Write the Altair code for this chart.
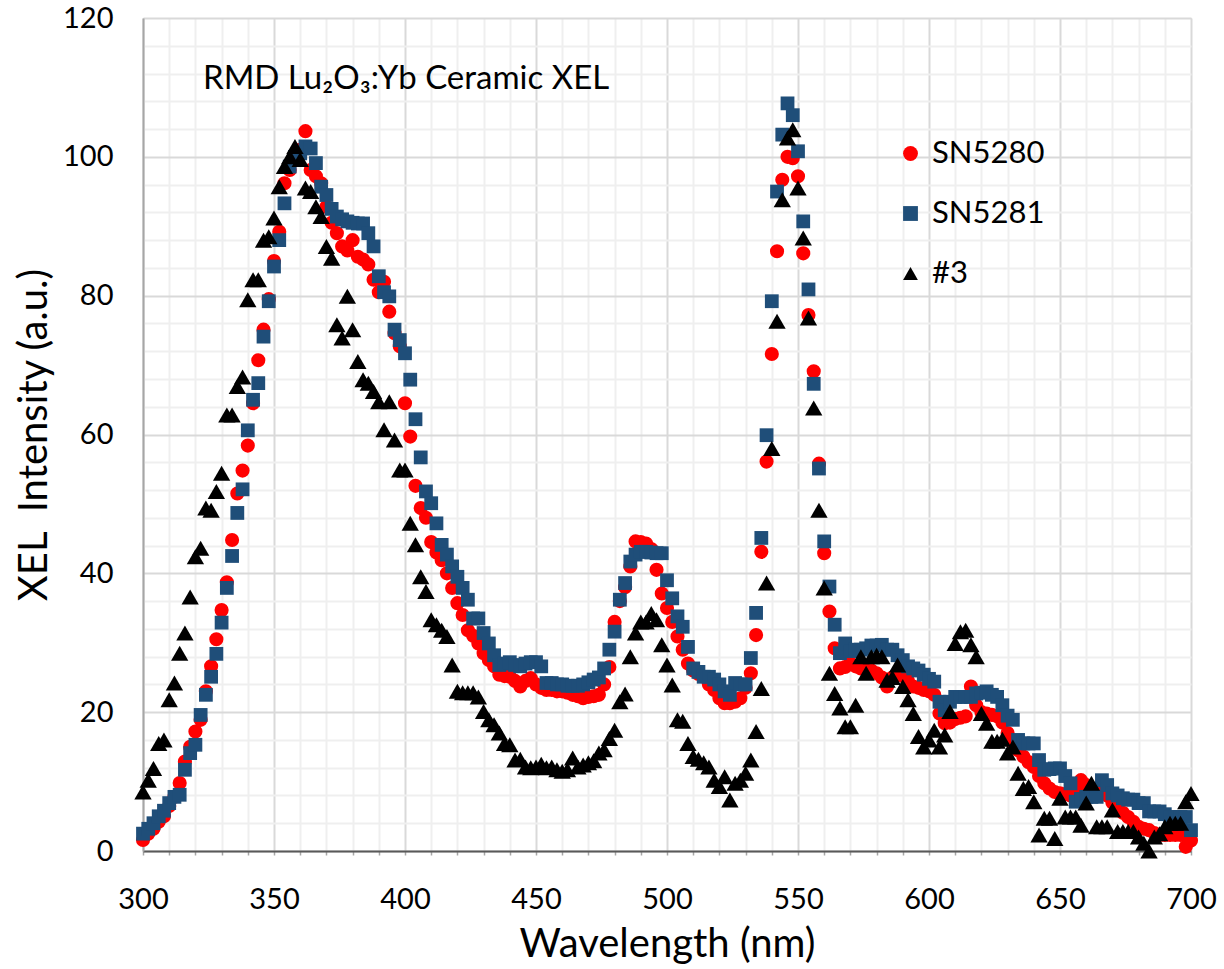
import altair as alt
import pandas as pd

# Wavelength grid (nm)
wavelength = list(range(300, 701, 2))

sn5280 = [
    1.6, 2.5, 3.2, 4.2, 5.0, 6.5, 7.8, 9.8, 12.9, 15.0,
    17.2, 18.9, 23.0, 26.6, 30.5, 34.7, 38.7, 44.8, 51.5, 54.8,
    58.4, 64.5, 70.7, 75.1, 79.5, 85.0, 89.2, 96.2, 98.1, 100.0,
    101.0, 103.7, 98.1, 97.2, 96.2, 92.8, 90.5, 89.0, 87.1, 86.5,
    88.0, 85.6, 85.2, 84.5, 82.3, 80.5, 82.0, 77.7, 74.6, 72.7,
    64.5, 59.7, 52.6, 49.4, 48.0, 44.5, 43.0, 41.9, 40.0, 37.9,
    35.7, 34.0, 31.8, 31.0, 29.9, 28.5, 27.5, 26.6, 25.4, 25.2,
    25.1, 24.5, 23.7, 24.5, 24.9, 24.0, 23.5, 23.2, 23.2, 23.0,
    23.0, 22.8, 22.5, 22.3, 22.0, 22.2, 22.3, 22.5, 24.0, 26.5, 33.0,
    36.0, 38.0, 41.0, 44.6, 44.5, 44.3, 43.5, 40.5, 37.1, 35.0,
    33.0, 30.9, 29.0, 27.0, 26.0, 25.5, 25.1, 24.0, 23.2, 22.0,
    21.3, 21.3, 21.5, 22.0, 23.5, 25.6, 31.1, 43.1, 56.1, 71.6,
    86.4, 96.7, 100.0, 99.8, 97.2, 86.1, 77.2, 69.1, 55.8, 42.9,
    34.5, 29.2, 26.3, 26.5, 27.0, 26.6, 26.3, 26.0, 26.0, 25.6,
    25.0, 23.7, 25.0, 25.6, 25.2, 24.5, 23.7, 23.5, 23.2, 23.0,
    22.5, 19.8, 18.4, 18.5, 19.0, 19.2, 19.4, 23.7, 21.0, 20.0,
    19.8, 19.6, 19.4, 18.5, 17.0, 15.5, 14.5, 13.6, 12.8, 12.1,
    10.8, 9.75, 9.0, 8.5, 8.3, 8.2, 8.0, 9.0, 10.2, 9.5,
    8.8, 8.5, 8.2, 8.0, 7.0, 6.0, 5.5, 4.9, 4.2, 3.5,
    3.2, 3.0, 2.6, 2.3, 2.3, 2.3, 2.3, 2.3, 0.6, 1.5,
]

sn5281 = [
    2.5, 3.2, 4.0, 5.0, 5.8, 6.9, 7.8, 8.1, 11.7, 14.1,
    15.3, 19.6, 22.5, 25.1, 28.4, 32.9, 37.9, 42.5, 48.7, 52.1,
    60.6, 65.0, 67.4, 74.1, 79.2, 84.2, 88.0, 93.3, 98.6, 100.0,
    100.5, 101.5, 101.2, 99.1, 95.7, 94.5, 92.5, 91.4, 91.0, 90.7,
    90.5, 90.4, 90.4, 89.0, 87.1, 82.8, 80.5, 79.9, 75.1, 73.6,
    71.7, 67.9, 62.2, 56.7, 51.8, 50.1, 47.2, 44.1, 42.7, 41.0,
    39.5, 37.9, 36.2, 33.5, 33.5, 31.4, 29.9, 28.2, 26.8, 27.0,
    27.2, 26.8, 26.6, 27.0, 27.2, 27.2, 26.6, 24.2, 24.2, 24.0,
    24.0, 23.8, 23.8, 23.8, 24.0, 24.3, 24.7, 25.0, 26.3, 29.0, 31.6,
    36.2, 38.6, 41.7, 42.7, 43.1, 43.1, 43.0, 42.9, 42.9, 39.0,
    36.4, 33.8, 32.3, 29.4, 26.3, 25.8, 25.1, 25.1, 24.7, 24.0,
    23.0, 22.5, 24.2, 24.0, 24.0, 27.8, 34.3, 45.1, 59.9, 79.2,
    95.0, 103.2, 107.7, 106.0, 100.8, 90.7, 80.9, 67.3, 55.1, 44.6,
    38.1, 32.6, 28.5, 29.9, 28.8, 29.0, 29.0, 29.2, 29.6, 29.6,
    29.7, 29.0, 29.0, 28.2, 27.5, 26.6, 26.3, 26.0, 25.4, 24.8,
    24.4, 21.5, 20.3, 21.5, 22.2, 22.2, 22.2, 22.2, 22.7, 22.8,
    23.0, 22.5, 22.2, 21.0, 19.5, 18.9, 16.0, 15.5, 15.5, 15.5,
    13.1, 11.7, 11.8, 11.9, 11.9, 10.8, 9.75, 7.1, 7.5, 7.8,
    7.8, 7.8, 10.2, 9.5, 8.3, 8.0, 7.6, 7.4, 7.4, 6.9,
    6.9, 5.7, 5.7, 5.7, 5.3, 4.9, 4.9, 4.9, 4.9, 3.0,
]

sample3 = [
    8.5, 10.2, 11.9, 15.5, 16.0, 21.8, 24.2, 28.5, 31.4, 36.6,
    42.4, 43.6, 49.4, 49.1, 51.8, 54.4, 62.8, 62.8, 66.9, 68.3,
    79.4, 82.3, 82.3, 88.0, 88.5, 91.2, 95.7, 98.6, 100.0, 101.5,
    99.6, 95.5, 95.0, 92.8, 91.4, 87.1, 85.4, 75.8, 73.9, 79.9,
    75.1, 70.5, 67.9, 67.4, 66.2, 64.7, 60.7, 64.7, 59.2, 54.9,
    54.9, 47.2, 44.1, 39.5, 37.4, 33.3, 32.6, 31.8, 30.9, 26.8,
    23.0, 22.8, 22.8, 22.8, 22.2, 20.1, 18.9, 18.2, 17.0, 15.5,
    15.3, 13.1, 13.2, 12.1, 12.0, 12.1, 12.5, 12.0, 12.1, 11.7,
    11.5, 11.7, 13.4, 12.1, 12.4, 12.7, 13.0, 14.1, 14.6, 16.2, 17.4,
    21.5, 22.6, 28.0, 31.4, 33.0, 33.0, 34.2, 33.3, 29.7, 26.8,
    23.9, 18.9, 18.7, 15.5, 13.6, 13.2, 12.7, 12.1, 10.2, 9.3,
    10.7, 7.35, 9.75, 10.2, 11.2, 13.1, 17.2, 23.4, 38.6, 58.0,
    76.3, 93.8, 102.7, 103.9, 95.5, 88.3, 76.8, 63.8, 49.1, 37.9,
    25.6, 22.7, 20.6, 17.9, 17.9, 21.0, 28.0, 25.6, 28.0, 28.2,
    28.0, 24.6, 25.0, 26.8, 23.7, 21.8, 19.8, 16.5, 15.0, 16.0,
    17.4, 15.0, 16.7, 20.1, 29.9, 31.6, 31.8, 29.7, 28.0, 19.8,
    18.4, 15.8, 15.8, 16.1, 14.1, 15.0, 11.2, 9.0, 9.3, 7.1,
    2.3, 4.7, 4.7, 1.8, 7.6, 4.9, 4.9, 4.9, 3.7, 6.9,
    9.75, 3.5, 3.5, 3.5, 5.9, 2.8, 2.8, 2.8, 2.8, 2.0,
    1.1, 0.0, 2.0, 2.5, 3.5, 4.0, 4.0, 4.0, 7.1, 8.3,
]

series_names = ["SN5280", "SN5281", "#3"]
series_colors = ["#FF0000", "#1F4E79", "#000000"]
series_shapes = ["circle", "square", "triangle-up"]
series_sizes = [200, 190, 300]

x_ticks = list(range(300, 701, 10))
y_ticks = list(range(0, 121, 4))

annotation = ["RMD Lu\u2082O\u2083:Yb Ceramic XEL"]

rows = []
for i, (name, vals) in enumerate(zip(series_names, [sn5280, sn5281, sample3])):
    for w, v in zip(wavelength, vals):
        rows.append({"Wavelength": w, "Intensity": v, "Series": name,
                     "ord": i, "sz": series_sizes[i]})
df = pd.DataFrame(rows)

FONT = "Lato"

x_axis = alt.Axis(
    values=x_ticks,
    labelExpr="datum.value % 50 === 0 ? datum.label : ''",
    labelOverlap=False, labelFlush=False,
    labelFont=FONT, labelFontSize=29, labelColor="#000000", labelPadding=30,
    ticks=True, tickSize=4, tickColor="#a6a6a6", tickWidth=1.5,
    domainColor="#595959", domainWidth=2,
    grid=True,
    gridColor={"condition": {"test": "datum.value % 50 === 0", "value": "#d9d9d9"}, "value": "#efefef"},
    gridWidth=2,
    title="Wavelength (nm)", titleFont=FONT, titleFontSize=40, titleFontWeight="normal",
    titleColor="#000000", titlePadding=10,
)

y_axis = alt.Axis(
    values=y_ticks,
    labelExpr="datum.value % 20 === 0 ? datum.label : ''",
    labelOverlap=False, labelFlush=False,
    labelFont=FONT, labelFontSize=29, labelColor="#000000", labelPadding=30,
    ticks=False,
    domainColor="#a6a6a6", domainWidth=2,
    grid=True,
    gridColor={"condition": {"test": "datum.value % 20 === 0", "value": "#d9d9d9"}, "value": "#efefef"},
    gridWidth=2,
    title="XEL\u00a0 Intensity (a.u.)", titleFont=FONT, titleFontSize=40, titleFontWeight="normal",
    titleColor="#000000", titlePadding=8,
)

points = alt.Chart(df).mark_point(filled=True, opacity=1, strokeWidth=0).encode(
    x=alt.X("Wavelength:Q", scale=alt.Scale(domain=[300, 700], nice=False, zero=False), axis=x_axis),
    y=alt.Y("Intensity:Q", scale=alt.Scale(domain=[0, 120], nice=False), axis=y_axis),
    color=alt.Color("Series:N", scale=alt.Scale(domain=series_names, range=series_colors),
                    legend=alt.Legend(orient="none", legendX=752, legendY=120, title=None,
                                      labelFont=FONT, labelFontSize=31, labelColor="#000000",
                                      symbolSize=220, rowPadding=28, labelOffset=6,
                                      symbolStrokeWidth=0)),
    shape=alt.Shape("Series:N", scale=alt.Scale(domain=series_names, range=series_shapes), legend=None),
    size=alt.Size("sz:Q", scale=None, legend=None),
    order=alt.Order("ord:Q"),
)

label = alt.Chart(pd.DataFrame({"t": annotation})).mark_text(
    font=FONT, fontSize=33, align="left", baseline="alphabetic", color="#000000"
).encode(text="t:N", x=alt.value(60), y=alt.value(71))

chart = alt.layer(points, label).properties(
    width=1048, height=833,
    autosize=alt.AutoSizeParams(type="none"),
    padding={"left": 143, "top": 18, "right": 33, "bottom": 118},
).configure_view(stroke="#000000", strokeWidth=2).configure(background="white")

chart.save("out.html", embed_options={"renderer": "svg", "actions": False})
